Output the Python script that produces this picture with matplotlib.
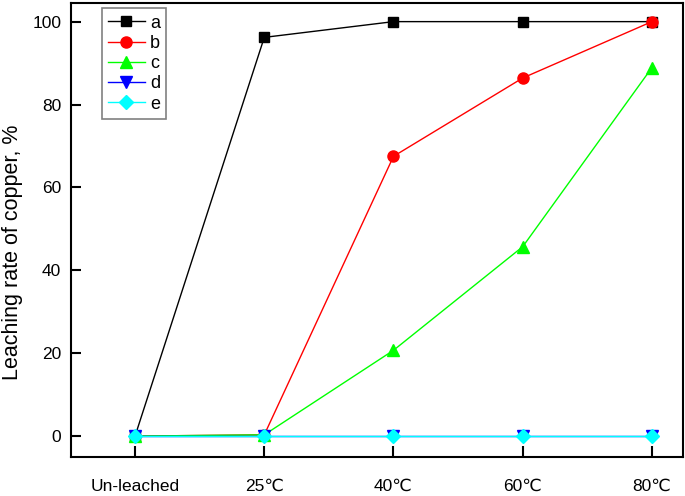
import matplotlib
matplotlib.use("Agg")
import matplotlib.pyplot as plt

plt.rcParams["font.family"] = ["Liberation Sans", "DejaVu Sans"]
plt.rcParams["font.size"] = 12

# data
categories = ["Un-leached", "25℃", "40℃", "60℃", "80℃"]
series_a = [0, 96.2, 100, 100, 100]
series_b = [0, 0.3, 67.5, 86.4, 100]
series_c = [0, 0.3, 20.7, 45.7, 88.9]
series_d = [0, 0, 0, 0, 0]
series_e = [0, 0, 0, 0, 0]

x = list(range(len(categories)))

fig = plt.figure(figsize=(6.85, 4.96), dpi=100)
ax = fig.add_axes([0.1036, 0.079, 0.8934, 0.915])

ax.plot(x, series_a, color="black", marker="s", markersize=7, linewidth=1, label="a")
ax.plot(x, series_b, color="red", marker="o", markersize=8, linewidth=1, label="b")
ax.plot(x, series_c, color="#00ff00", marker="^", markersize=8, linewidth=1, label="c")
ax.plot(x, series_d, color="blue", marker="v", markersize=8, linewidth=1, label="d")
ax.plot(x, series_e, color="cyan", marker="D", markersize=7, linewidth=1, label="e")

ax.set_xlim(-0.496, 4.24)
ax.set_ylim(-5, 104.5)
ax.set_xticks(x)
ax.set_xticklabels(categories)
ax.set_yticks([0, 20, 40, 60, 80, 100])
ax.tick_params(axis="x", direction="in", length=8, width=1.5, pad=16, labelsize=12.5)
ax.tick_params(axis="y", direction="in", length=7, width=1.5, pad=7, labelsize=12.5)
for sp in ax.spines.values():
    sp.set_linewidth(1.5)

ax.set_ylabel("Leaching rate of copper, %", fontsize=15.5)
ax.yaxis.set_label_coords(-0.078, 0.45)

leg = ax.legend(loc="upper left", bbox_to_anchor=(0.042, 1.0), fancybox=False,
                edgecolor="gray", fontsize=13, handlelength=2.0, handletextpad=0.3,
                labelspacing=0.18, borderpad=0.35, borderaxespad=0.3, framealpha=1)
leg.get_frame().set_linewidth(1.2)

fig.savefig("out.png", dpi=100)
